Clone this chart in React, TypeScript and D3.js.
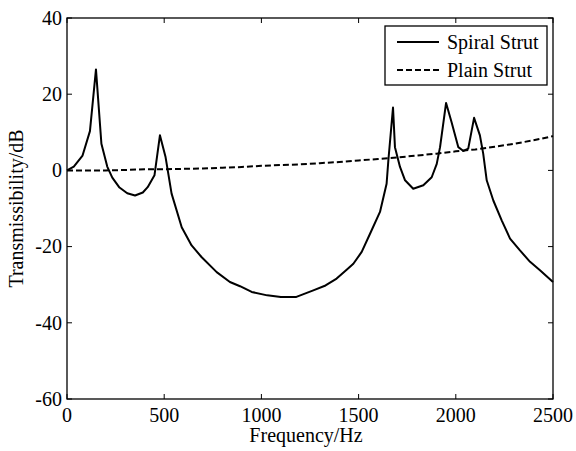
import React from "react";
import * as d3 from "d3";

const spiralFreq = [0,35,80,118,149,177,207,233,270,310,350,390,415,450,478,507,538,590,641,693,770,838,890,950,1030,1100,1180,1267,1330,1387,1440,1473,1516,1560,1610,1644,1653,1677,1687,1713,1739,1781,1833,1876,1902,1919,1950,1978,2013,2039,2064,2094,2124,2141,2159,2193,2236,2279,2330,2382,2433,2500];
const spiralDb = [0,1,3.9,10.3,26.5,7,1,-1.9,-4.5,-6,-6.6,-5.8,-4.4,-1.3,9.2,3.5,-6.1,-14.9,-19.7,-22.8,-26.7,-29.3,-30.4,-31.9,-32.8,-33.2,-33.2,-31.5,-30.2,-28.4,-26,-24.5,-21.4,-16.5,-10.9,-3.5,2.6,16.5,6.1,0.9,-2.6,-4.8,-3.9,-1.8,1.7,6.1,17.7,12.7,6.1,5.1,5.7,13.8,9.2,4.4,-2.6,-7.9,-13.1,-17.9,-21,-24,-26.2,-29.3];

const plainFreq = [0,100,200,300,400,500,600,700,800,900,1000,1100,1200,1300,1400,1500,1600,1700,1800,1900,2000,2100,2200,2300,2400,2500];
const plainDb = [0,0,0,0.1,0.3,0.3,0.4,0.5,0.7,0.9,1.2,1.4,1.6,1.9,2.2,2.6,3,3.4,3.9,4.4,5,5.5,6.2,7,7.9,9];

const xTicks = [0, 500, 1000, 1500, 2000, 2500];
const yTicks = [-60, -40, -20, 0, 20, 40];
const seriesNames = ["Spiral Strut", "Plain Strut"];
const xLabel = "Frequency/Hz";
const yLabel = "Transmissibility/dB";

const W = 576, H = 451;
const L = 67, R = 553, T = 18, B = 399;
const FONT = "'Liberation Serif', 'Times New Roman', serif";
const FS = 20;

export default function App() {
  const x = d3.scaleLinear().domain([0, 2500]).range([L, R]);
  const y = d3.scaleLinear().domain([-60, 40]).range([B, T]);
  const line = d3.line<[number, number]>().x(d => x(d[0])).y(d => y(d[1]));
  const spiral = spiralFreq.map((f, i) => [f, spiralDb[i]] as [number, number]);
  const plain = plainFreq.map((f, i) => [f, plainDb[i]] as [number, number]);
  const tl = 5;
  return (
    <svg width={W} height={H} style={{ position: "absolute", left: 0, top: 0, background: "#fff" }} fontFamily={FONT}>
      <rect x={0} y={0} width={W} height={H} fill="#fff" />
      <path d={line(plain) || ""} fill="none" stroke="#000" strokeWidth={2} strokeDasharray="6,3" />
      <path d={line(spiral) || ""} fill="none" stroke="#000" strokeWidth={2} strokeLinejoin="round" />
      <rect x={L} y={T} width={R - L} height={B - T} fill="none" stroke="#000" strokeWidth={1.3} />
      {xTicks.map(t => (
        <g key={"x" + t}>
          <line x1={x(t)} x2={x(t)} y1={B} y2={B - tl} stroke="#000" strokeWidth={1} />
          <line x1={x(t)} x2={x(t)} y1={T} y2={T + tl} stroke="#000" strokeWidth={1} />
          <text x={x(t)} y={422} fontSize={FS} textAnchor="middle">{t}</text>
        </g>
      ))}
      {yTicks.map(t => (
        <g key={"y" + t}>
          <line x1={L} x2={L + tl} y1={y(t)} y2={y(t)} stroke="#000" strokeWidth={1} />
          <line x1={R} x2={R - tl} y1={y(t)} y2={y(t)} stroke="#000" strokeWidth={1} />
          <text x={62} y={y(t) + 6.8} fontSize={FS} textAnchor="end">{t}</text>
        </g>
      ))}
      <text x={306} y={442} fontSize={FS} textAnchor="middle">{xLabel}</text>
      <text transform={`translate(23,${(T + B) / 2}) rotate(-90)`} fontSize={FS} textAnchor="middle">{yLabel}</text>
      <g>
        <rect x={385} y={26} width={162} height={59} fill="#fff" stroke="#000" strokeWidth={1.3} />
        <line x1={397} x2={439} y1={42} y2={42} stroke="#000" strokeWidth={2} />
        <text x={447} y={48.5} fontSize={FS}>{seriesNames[0]}</text>
        <line x1={397} x2={439} y1={70} y2={70} stroke="#000" strokeWidth={2} strokeDasharray="6,3" />
        <text x={447} y={76.5} fontSize={FS}>{seriesNames[1]}</text>
      </g>
    </svg>
  );
}
